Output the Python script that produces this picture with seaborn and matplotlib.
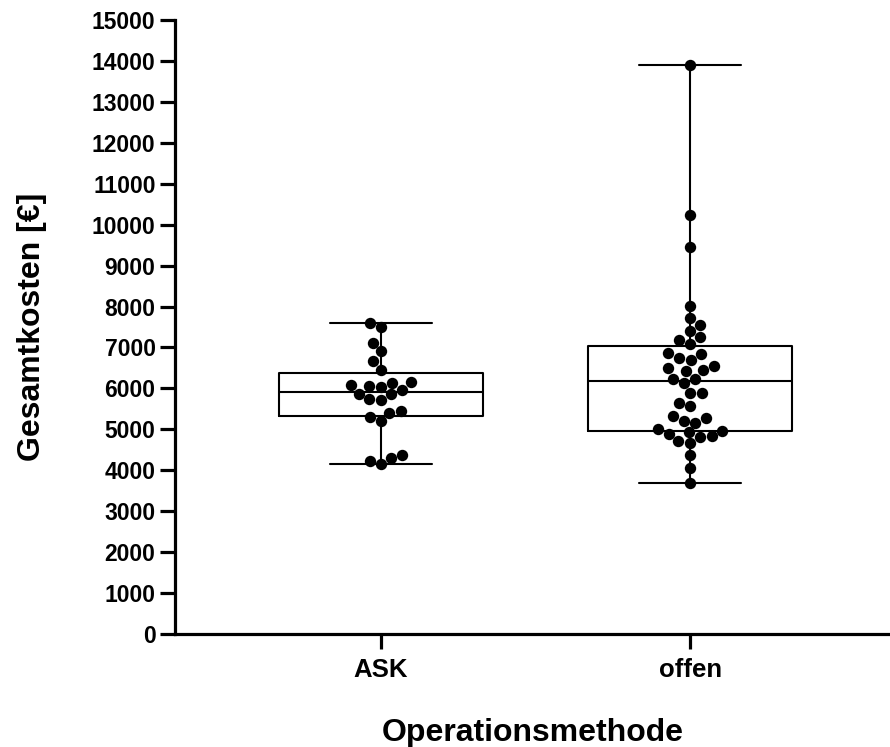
import numpy as np
import pandas as pd
import seaborn as sns
import matplotlib.pyplot as plt

# values (Gesamtkosten in EUR)
groups = ["ASK", "offen"]
ask_costs = [
    7600, 7505, 7114, 6911, 6660, 6450, 6150, 6140, 6060, 6080, 6030, 5960,
    5855, 5870, 5715, 5730, 5450, 5410, 5310, 5205, 4375, 4310, 4230, 4146,
]
offen_costs = [
    13902, 10244, 9450, 8008, 7724, 7537, 7398, 7252, 7171, 7089, 6870, 6829,
    6748, 6683, 6545, 6488, 6447, 6423, 6236, 6236, 6122, 5878, 5878, 5651,
    5569, 5325, 5285, 5203, 5163, 5000, 4959, 4935, 4894, 4837, 4821, 4715,
    4659, 4366, 4065, 3699,
]
y_ticks = list(range(0, 15001, 1000))


def box_stats(values, label):
    # quartiles the way Prism does it ((n+1) method), whiskers min to max
    v = np.asarray(values, dtype=float)
    q1, med, q3 = np.percentile(v, [25, 50, 75], method="weibull")
    return dict(label=label, med=med, q1=q1, q3=q3,
                whislo=v.min(), whishi=v.max(), fliers=[])


sns.set_style("ticks", {"text.color": "black", "axes.labelcolor": "black",
                        "xtick.color": "black", "ytick.color": "black",
                        "axes.edgecolor": "black"})
plt.rcParams["font.family"] = ["Liberation Sans", "DejaVu Sans"]
plt.rcParams["font.weight"] = "bold"

df = pd.DataFrame({
    "Operationsmethode": ["ASK"] * len(ask_costs) + ["offen"] * len(offen_costs),
    "Gesamtkosten": ask_costs + offen_costs,
})

fig = plt.figure(figsize=(8.9, 7.47), dpi=100)
ax = fig.add_axes([0.1966, 0.1513, 0.8034, 0.8219])

sns.swarmplot(data=df, x="Operationsmethode", y="Gesamtkosten", order=groups,
              color="black", size=8.2, ax=ax, zorder=3)

stats = [box_stats(ask_costs, "ASK"), box_stats(offen_costs, "offen")]
line_kw = dict(color="black", linewidth=1.5)
ax.bxp(stats, positions=[0, 1], widths=0.66, showfliers=False,
       manage_ticks=False, boxprops=line_kw, medianprops=line_kw,
       whiskerprops=line_kw, capprops=line_kw)

ax.set_xlim(-0.667, 1.647)
ax.set_ylim(0, 15000)
ax.set_yticks(y_ticks)
ax.set_xticks([0, 1], groups)

sns.despine(ax=ax)
for side in ["left", "bottom"]:
    ax.spines[side].set_linewidth(2.3)
ax.tick_params(axis="both", length=11, width=2.3, color="black",
               labelcolor="black")
ax.tick_params(axis="y", labelsize=16.5, pad=3)
ax.tick_params(axis="x", labelsize=18.5, pad=6)
for lab in ax.get_xticklabels() + ax.get_yticklabels():
    lab.set_fontweight("bold")

ax.set_xlabel("Operationsmethode", fontsize=23, fontweight="bold", labelpad=26)
ax.set_ylabel("Gesamtkosten [€]", fontsize=23, fontweight="bold", labelpad=32)

fig.savefig("out.png", dpi=100)
